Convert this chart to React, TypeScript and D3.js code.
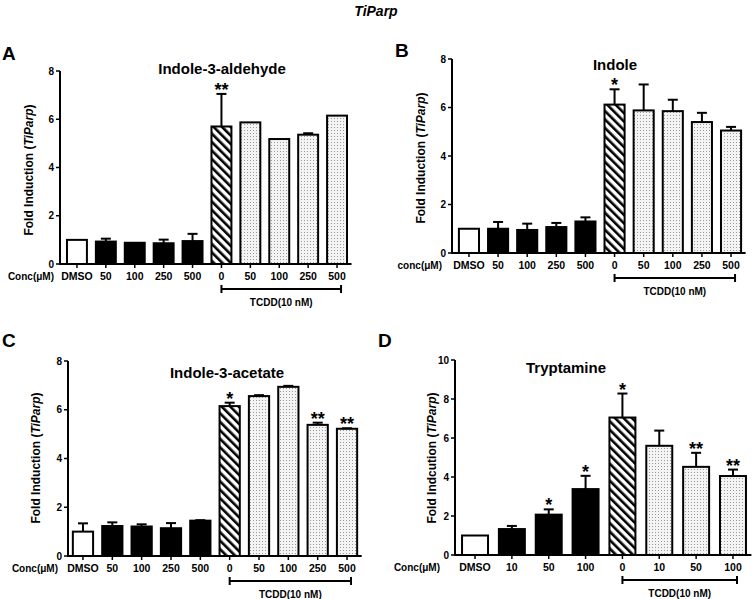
import React from "react";
import * as d3 from "d3";

// ---------- data ----------
const catsABC = ["DMSO", "50", "100", "250", "500", "0", "50", "100", "250", "500"];
const catsD = ["DMSO", "10", "50", "100", "0", "10", "50", "100"];
const kindsABC = ["open", "solid", "solid", "solid", "solid", "hatch", "dot", "dot", "dot", "dot"];
const kindsD = ["open", "solid", "solid", "solid", "hatch", "dot", "dot", "dot"];

const meanA = [1.0, 0.93, 0.88, 0.86, 0.95, 5.7, 5.87, 5.18, 5.36, 6.15];
const errA = [0, 0.12, 0, 0.15, 0.3, 1.35, 0, 0, 0.06, 0];
const sigA = ["", "", "", "", "", "**", "", "", "", ""];

const meanB = [1.0, 1.0, 0.95, 1.07, 1.3, 6.12, 5.88, 5.85, 5.4, 5.05];
const errB = [0, 0.28, 0.26, 0.17, 0.17, 0.63, 1.07, 0.47, 0.38, 0.15];
const sigB = ["", "", "", "", "", "*", "", "", "", ""];

const meanC = [1.0, 1.23, 1.21, 1.14, 1.45, 6.15, 6.56, 6.94, 5.38, 5.22];
const errC = [0.34, 0.15, 0.09, 0.21, 0.02, 0.14, 0.04, 0.04, 0.09, 0.02];
const sigC = ["", "", "", "", "", "*", "", "", "**", "**"];

const meanD = [1.0, 1.33, 2.07, 3.38, 7.05, 5.6, 4.52, 4.05];
const errD = [0, 0.16, 0.27, 0.68, 1.23, 0.78, 0.72, 0.33];
const sigD = ["", "", "*", "*", "*", "", "**", "**"];

const FONT = "'Liberation Sans', Arial, sans-serif";

type Cfg = {
  letter: string; letterX: number; letterY: number;
  title: string; titleX: number; titleY: number;
  yLabelMain: string; yLabelX: number; yLabelY: number;
  concLabel: string; concX: number;
  axisX: number; r0: number; r1: number; pad: number;
  y0: number; yTop: number; yMax: number;
  cats: string[]; kinds: string[]; mean: number[]; err: number[]; sig: string[];
};

const panels: Cfg[] = [
  {
    letter: "A", letterX: 2, letterY: 60, title: "Indole-3-aldehyde", titleX: 222, titleY: 74,
    yLabelMain: "Fold Induction (", yLabelX: 33, yLabelY: 170, concLabel: "Conc(\u03bcM)", concX: 54,
    axisX: 60, r0: 62.5, r1: 351.5, pad: 0.31, y0: 264, yTop: 71, yMax: 8,
    cats: catsABC, kinds: kindsABC, mean: meanA, err: errA, sig: sigA,
  },
  {
    letter: "B", letterX: 395, letterY: 57, title: "Indole", titleX: 615, titleY: 70,
    yLabelMain: "Fold Induction (", yLabelX: 425, yLabelY: 158, concLabel: "conc(\u03bcM)", concX: 442,
    axisX: 452, r0: 454.4, r1: 745.6, pad: 0.31, y0: 253, yTop: 59, yMax: 8,
    cats: catsABC, kinds: kindsABC, mean: meanB, err: errB, sig: sigB,
  },
  {
    letter: "C", letterX: 2, letterY: 347, title: "Indole-3-acetate", titleX: 227, titleY: 378,
    yLabelMain: "Fold Induction (", yLabelX: 40, yLabelY: 458, concLabel: "Conc(\u03bcM)", concX: 58,
    axisX: 68, r0: 68.3, r1: 361.7, pad: 0.31, y0: 556, yTop: 361, yMax: 8,
    cats: catsABC, kinds: kindsABC, mean: meanC, err: errC, sig: sigC,
  },
  {
    letter: "D", letterX: 378, letterY: 347, title: "Tryptamine", titleX: 566, titleY: 373,
    yLabelMain: "Fold Indcution (", yLabelX: 436, yLabelY: 458, concLabel: "Conc(\u03bcM)", concX: 440,
    axisX: 455, r0: 456.6, r1: 751.4, pad: 0.295, y0: 555, yTop: 360, yMax: 10,
    cats: catsD, kinds: kindsD, mean: meanD, err: errD, sig: sigD,
  },
];

function fillFor(kind: string) {
  if (kind === "open") return "#ffffff";
  if (kind === "solid") return "#000000";
  if (kind === "hatch") return "url(#hatch)";
  return "url(#dots)";
}

function Panel({ c }: { c: Cfg }) {
  const n = c.cats.length;
  const x = d3.scaleBand<number>().domain(d3.range(n)).range([c.r0, c.r1]).paddingInner(c.pad).paddingOuter(c.pad / 2);
  const y = d3.scaleLinear().domain([0, c.yMax]).range([c.y0, c.yTop]);
  const bw = x.bandwidth();
  const ticks = y.ticks(c.yMax / 2);
  const hatchIdx = c.kinds.indexOf("hatch");
  const bx0 = (x(hatchIdx) as number) + bw / 2;
  const bx1 = (x(n - 1) as number) + bw / 2 + 4;
  const by = c.y0 + 25;
  return (
    <g>
      <text x={c.letterX} y={c.letterY} fontSize={19} fontWeight="bold" fontFamily={FONT}>{c.letter}</text>
      <text x={c.titleX} y={c.titleY} fontSize={15} fontWeight="bold" fontFamily={FONT} textAnchor="middle">{c.title}</text>
      <text transform={`translate(${c.yLabelX},${c.yLabelY}) rotate(-90)`} fontSize={12} fontWeight="bold" fontFamily={FONT} textAnchor="middle">
        {c.yLabelMain}<tspan fontStyle="italic">TiParp</tspan>)
      </text>
      {/* bars */}
      {c.mean.map((v, i) => {
        const bx = x(i) as number;
        return (
          <rect key={"b" + i} x={bx} y={y(v)} width={bw} height={c.y0 - y(v)} fill={fillFor(c.kinds[i])} stroke="#000" strokeWidth={2} />
        );
      })}
      {/* error bars */}
      {c.mean.map((v, i) => {
        if (!c.err[i]) return null;
        const cx = (x(i) as number) + bw / 2;
        const top = y(v + c.err[i]);
        return (
          <g key={"e" + i} stroke="#000" strokeWidth={2}>
            <line x1={cx} x2={cx} y1={y(v)} y2={top} />
            <line x1={cx - 5} x2={cx + 5} y1={top} y2={top} />
          </g>
        );
      })}
      {/* significance */}
      {c.sig.map((s, i) => {
        if (!s) return null;
        const cx = (x(i) as number) + bw / 2;
        return (
          <text key={"s" + i} x={cx} y={y(c.mean[i] + c.err[i]) + 2} fontSize={18} fontWeight="bold" fontFamily={FONT} textAnchor="middle">{s}</text>
        );
      })}
      {/* y axis */}
      <line x1={c.axisX} x2={c.axisX} y1={c.yTop} y2={c.y0 + 1} stroke="#000" strokeWidth={2} />
      {ticks.map((t) => (
        <g key={"t" + t}>
          <line x1={c.axisX - 4} x2={c.axisX} y1={y(t)} y2={y(t)} stroke="#000" strokeWidth={1.5} />
          <text x={c.axisX - 6} y={y(t) + 3.5} fontSize={10} fontWeight="bold" fontFamily={FONT} textAnchor="end">{t}</text>
        </g>
      ))}
      {/* x axis */}
      <line x1={c.axisX - 1} x2={c.r1} y1={c.y0} y2={c.y0} stroke="#000" strokeWidth={2} />
      {c.cats.map((cat, i) => {
        const cx = (x(i) as number) + bw / 2;
        return (
          <g key={"x" + i}>
            <line x1={cx} x2={cx} y1={c.y0} y2={c.y0 + 4} stroke="#000" strokeWidth={1.5} />
            <text x={cx} y={c.y0 + 16} fontSize={10.5} fontWeight="bold" fontFamily={FONT} textAnchor="middle">{cat}</text>
          </g>
        );
      })}
      <text x={c.concX} y={c.y0 + 16} fontSize={10} fontWeight="bold" fontFamily={FONT} textAnchor="end">{c.concLabel}</text>
      {/* TCDD bracket */}
      <g stroke="#000" strokeWidth={2}>
        <line x1={bx0} x2={bx1} y1={by} y2={by} />
        <line x1={bx0} x2={bx0} y1={by - 4} y2={by + 4} />
        <line x1={bx1} x2={bx1} y1={by - 4} y2={by + 4} />
      </g>
      <text x={(bx0 + bx1) / 2} y={by + 17} fontSize={10} fontWeight="bold" fontFamily={FONT} textAnchor="middle">TCDD(10 nM)</text>
    </g>
  );
}

export default function App() {
  return (
    <svg width={752} height={599} style={{ position: "absolute", left: 0, top: 0, background: "#fff" }}>
      <defs>
        <pattern id="hatch" patternUnits="userSpaceOnUse" width={6} height={6} patternTransform="rotate(-45)">
          <rect x={0} y={0} width={6} height={6} fill="#fff" />
          <rect x={0} y={0} width={2.6} height={6} fill="#000" />
        </pattern>
        <pattern id="dots" patternUnits="userSpaceOnUse" width={3} height={3}>
          <rect x={0} y={0} width={3} height={3} fill="#f4f4f4" />
          <rect x={1} y={1} width={1} height={1} fill="#9a9a9a" />
        </pattern>
      </defs>
      <rect x={0} y={0} width={752} height={599} fill="#fff" />
      <text x={376} y={16} fontSize={14} fontWeight="bold" fontStyle="italic" fontFamily={FONT} textAnchor="middle">TiParp</text>
      {panels.map((p) => (
        <Panel key={p.letter} c={p} />
      ))}
    </svg>
  );
}
